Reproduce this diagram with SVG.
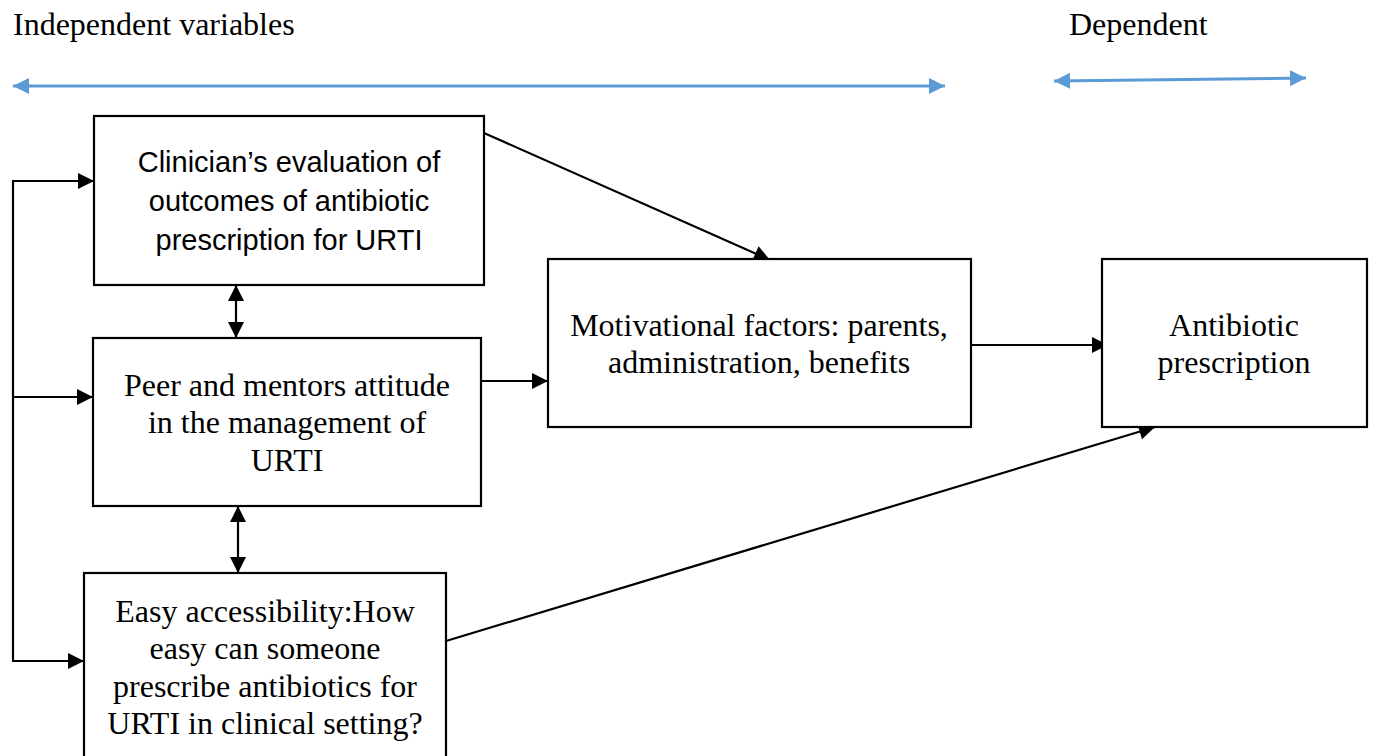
<svg xmlns="http://www.w3.org/2000/svg" width="1376" height="756" viewBox="0 0 1376 756">
<style>
.box{fill:#fff;stroke:#000;stroke-width:2.2}
.ser{font-family:"Liberation Serif",serif;font-size:32px;fill:#000;text-anchor:middle}
.sans{font-family:"Liberation Sans",sans-serif;font-size:29px;fill:#000;text-anchor:middle}
.lbl{font-family:"Liberation Serif",serif;font-size:32px;fill:#000}
.ln{stroke:#000;stroke-width:2.2;fill:none}
.blue{stroke:#5b9bd5;stroke-width:3;fill:none}
</style>
<defs>
<marker id="ah" viewBox="0 0 10 10" refX="10" refY="5" markerWidth="18" markerHeight="16" markerUnits="userSpaceOnUse" orient="auto-start-reverse"><path d="M0,0 L10,5 L0,10 z" fill="#000"/></marker>
<marker id="bh" viewBox="0 0 10 10" refX="10" refY="5" markerWidth="16" markerHeight="16" markerUnits="userSpaceOnUse" orient="auto-start-reverse"><path d="M0,0 L10,5 L0,10 z" fill="#5b9bd5"/></marker>
</defs>
<rect width="1376" height="756" fill="#fff"/>
<g id="labels">
<text class="lbl" x="13" y="35">Independent variables</text>
<text class="lbl" x="1069" y="35">Dependent</text>
</g>
<g id="connectors">
<line class="blue" x1="13" y1="86" x2="945" y2="86" marker-start="url(#bh)" marker-end="url(#bh)"/>
<line class="blue" x1="1054" y1="81" x2="1306" y2="78" marker-start="url(#bh)" marker-end="url(#bh)"/>
<polyline class="ln" points="94,181 13,181 13,661 84,661" marker-end="url(#ah)"/>
<line class="ln" x1="13" y1="181" x2="94" y2="181" marker-end="url(#ah)"/>
<line class="ln" x1="13" y1="397" x2="93" y2="397" marker-end="url(#ah)"/>
<line class="ln" x1="236" y1="285" x2="236" y2="338" marker-start="url(#ah)" marker-end="url(#ah)"/>
<line class="ln" x1="238" y1="506" x2="238" y2="573" marker-start="url(#ah)" marker-end="url(#ah)"/>
<line class="ln" x1="484" y1="133" x2="770" y2="260" marker-end="url(#ah)"/>
<line class="ln" x1="481" y1="381" x2="548" y2="381" marker-end="url(#ah)"/>
<line class="ln" x1="971" y1="345" x2="1108" y2="345" marker-end="url(#ah)"/>
<line class="ln" x1="446" y1="641" x2="1155" y2="427" marker-end="url(#ah)"/>
</g>
<g id="n1">
<rect class="box" x="94" y="116" width="390" height="169"/>
<text class="sans" x="289" y="172">Clinician’s evaluation of</text>
<text class="sans" x="289" y="211">outcomes of antibiotic</text>
<text class="sans" x="289" y="250">prescription for URTI</text>
</g>
<g id="n2">
<rect class="box" x="93" y="338" width="388" height="168"/>
<text class="ser" x="287" y="396">Peer and mentors attitude</text>
<text class="ser" x="287" y="433">in the management of</text>
<text class="ser" x="287" y="471">URTI</text>
</g>
<g id="n3">
<rect class="box" x="84" y="573" width="362" height="190"/>
<text class="ser" x="265" y="622">Easy accessibility:How</text>
<text class="ser" x="265" y="659">easy can someone</text>
<text class="ser" x="265" y="697">prescribe antibiotics for</text>
<text class="ser" x="265" y="734">URTI in clinical setting?</text>
</g>
<g id="n4">
<rect class="box" x="548" y="259" width="423" height="168"/>
<text class="ser" x="759" y="336">Motivational factors: parents,</text>
<text class="ser" x="759" y="373">administration, benefits</text>
</g>
<g id="n5">
<rect class="box" x="1102" y="259" width="265" height="168"/>
<text class="ser" x="1234" y="336">Antibiotic</text>
<text class="ser" x="1234" y="373">prescription</text>
</g>
</svg>
